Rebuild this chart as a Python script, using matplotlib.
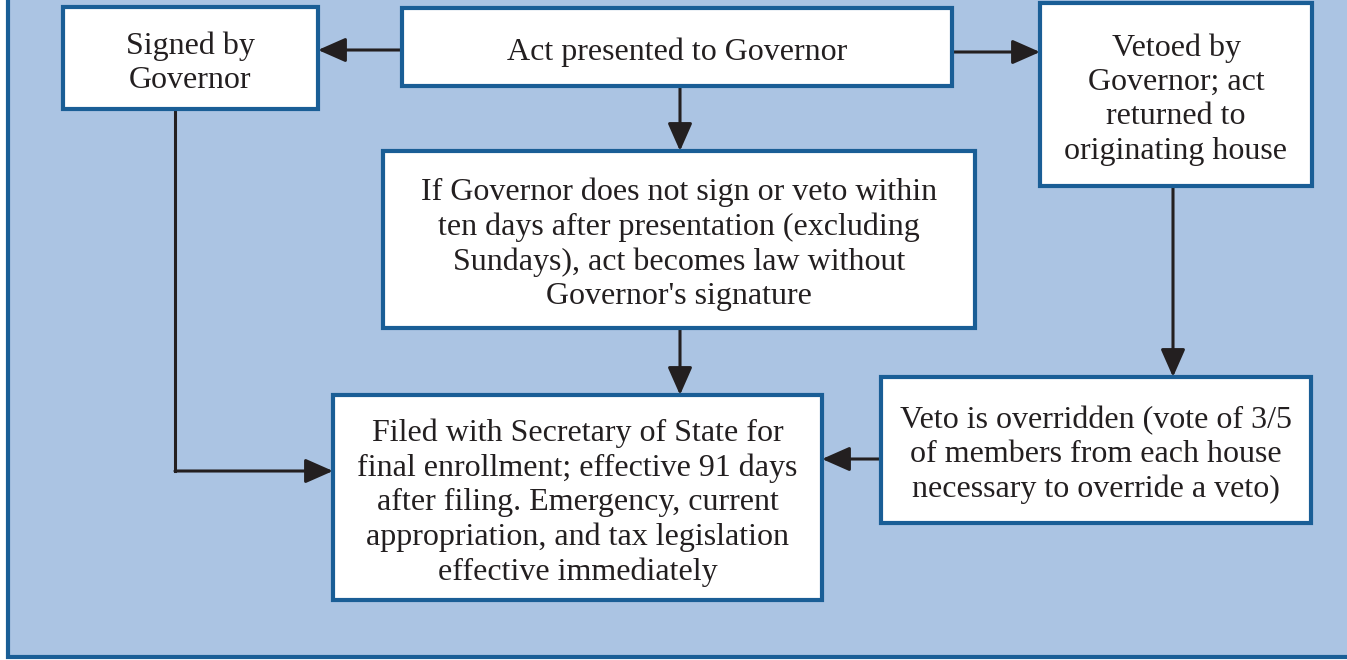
import matplotlib
matplotlib.use("Agg")
import matplotlib.pyplot as plt
from matplotlib.patches import Rectangle, FancyArrowPatch

# canvas in pixels
W, H = 1347, 660

bg_color = "#abc4e3"
edge_color = "#1a5e96"
arrow_color = "#231f20"

# boxes: (left, top, right, bottom) in pixels
box_names = ["signed", "act", "vetoed", "nosign", "filed", "override"]
box_bounds = [
    (63, 7, 318, 109),
    (402, 8, 952, 86),
    (1040, 3, 1312, 186),
    (383, 151, 975, 328),
    (333, 395, 822, 600),
    (881, 377, 1311, 523),
]
box_labels = [
    "Signed by\nGovernor",
    "Act presented to Governor",
    "Vetoed by\nGovernor; act\nreturned to\noriginating house",
    "If Governor does not sign or veto within\nten days after presentation (excluding\nSundays), act becomes law without\nGovernor's signature",
    "Filed with Secretary of State for\nfinal enrollment; effective 91 days\nafter filing. Emergency, current\nappropriation, and tax legislation\neffective immediately",
    "Veto is overridden (vote of 3/5\nof members from each house\nnecessary to override a veto)",
]

# connectors as polylines, last segment carries the arrowhead
connectors = [
    [(402, 50), (318, 50)],
    [(952, 52), (1040, 52)],
    [(680, 86), (680, 151)],
    [(680, 328), (680, 395)],
    [(175, 109), (175, 471), (333, 471)],
    [(1173, 186), (1173, 377)],
    [(881, 459), (822, 459)],
]

fig = plt.figure(figsize=(W / 100, H / 100), dpi=100)
ax = fig.add_axes([0, 0, 1, 1])
ax.set_xlim(0, W)
ax.set_ylim(H, 0)
ax.axis("off")

# panel
ax.add_patch(Rectangle((8, -20), W + 20, 677, facecolor=bg_color,
                       edgecolor=edge_color, linewidth=3, zorder=0))

for (l, t, r, b), label in zip(box_bounds, box_labels):
    ax.add_patch(Rectangle((l, t), r - l, b - t, facecolor="white",
                           edgecolor=edge_color, linewidth=3, zorder=2))
    ax.text((l + r) / 2, (t + b) / 2 + 5, label, ha="center", va="center",
            family="Liberation Serif", fontsize=23, color="#231f20",
            linespacing=1.24, zorder=3)

for pts in connectors:
    for (x0, y0), (x1, y1) in zip(pts[:-2], pts[1:-1]):
        ax.plot([x0, x1], [y0, y1], color=arrow_color, lw=2.2,
                solid_capstyle="projecting", zorder=1)
    (x0, y0), (x1, y1) = pts[-2], pts[-1]
    ax.add_patch(FancyArrowPatch((x0, y0), (x1, y1),
                                 arrowstyle="-|>,head_length=1.7,head_width=0.75",
                                 mutation_scale=10, color=arrow_color, lw=2.2,
                                 shrinkA=0, shrinkB=0, zorder=1))

fig.savefig("out.png", dpi=100, facecolor="white")
